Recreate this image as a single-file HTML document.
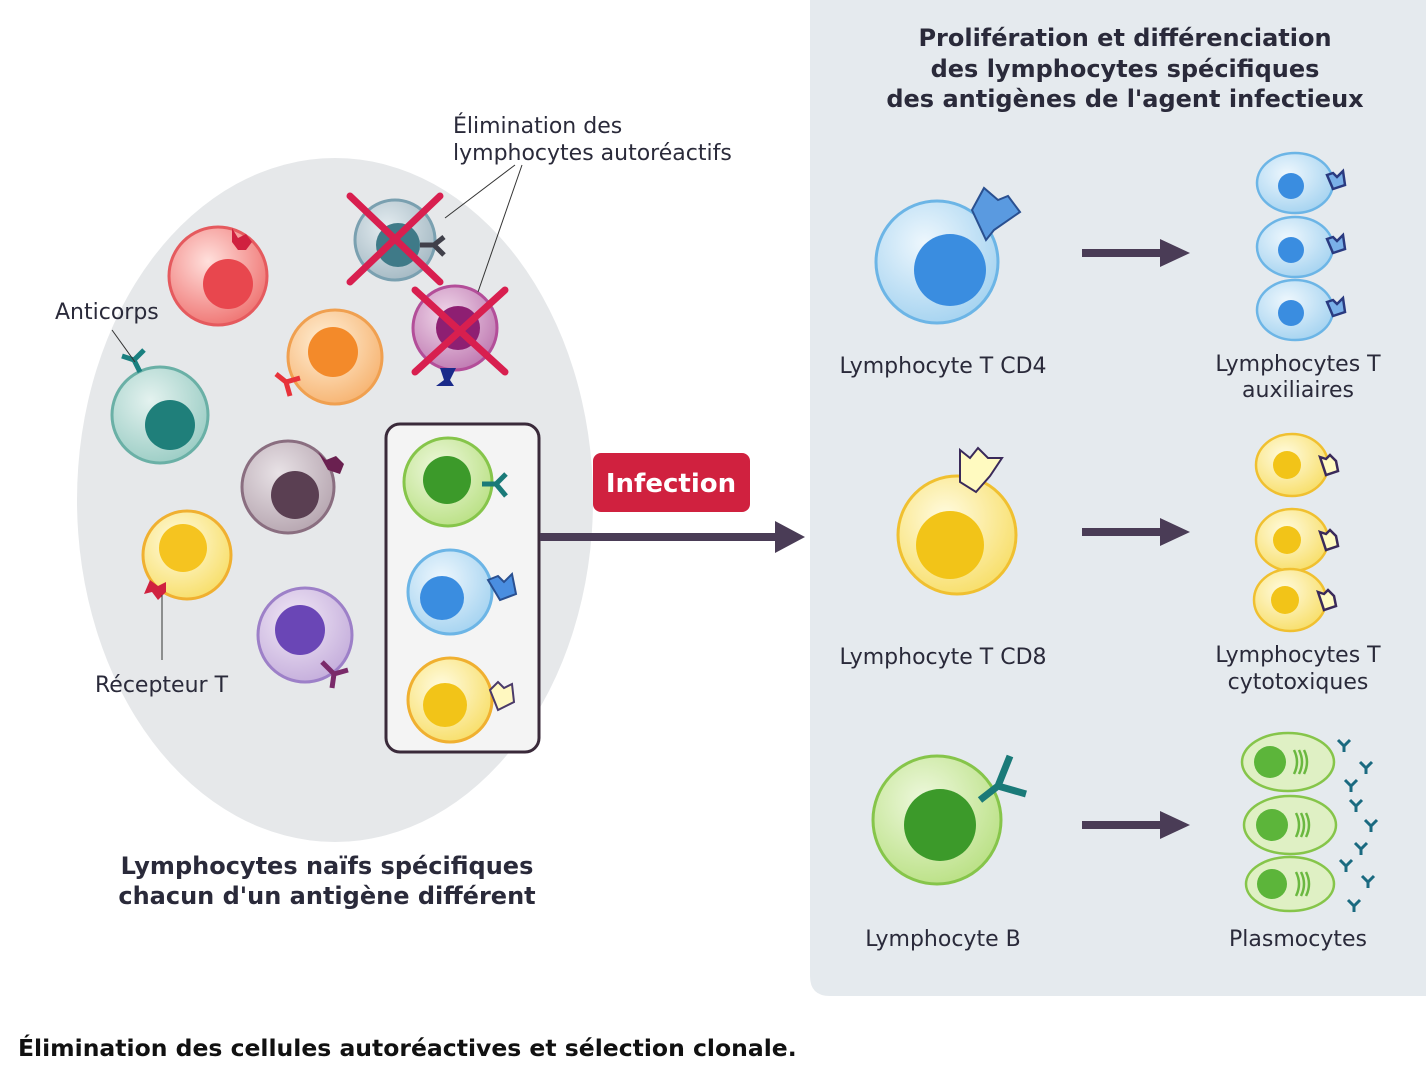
<!DOCTYPE html>
<html><head><meta charset="utf-8"><style>
html,body{margin:0;padding:0;background:#fff;}
svg{display:block;}
text{font-family:"DejaVu Sans","Liberation Sans",sans-serif;}
</style></head><body>
<svg width="1426" height="1080" viewBox="0 0 1426 1080" xmlns="http://www.w3.org/2000/svg">
<defs>
<radialGradient id="gr" cx="40%" cy="35%" r="65%"><stop offset="0" stop-color="#ffe0dc"/><stop offset="1" stop-color="#f07a78"/></radialGradient>
<radialGradient id="go" cx="40%" cy="35%" r="65%"><stop offset="0" stop-color="#fff0d8"/><stop offset="1" stop-color="#f7b777"/></radialGradient>
<radialGradient id="gt" cx="40%" cy="35%" r="65%"><stop offset="0" stop-color="#e4f2ef"/><stop offset="1" stop-color="#9fcfc7"/></radialGradient>
<radialGradient id="gb" cx="40%" cy="35%" r="65%"><stop offset="0" stop-color="#e8e2e6"/><stop offset="1" stop-color="#b9a9b3"/></radialGradient>
<radialGradient id="gy" cx="40%" cy="35%" r="65%"><stop offset="0" stop-color="#fffbe0"/><stop offset="1" stop-color="#f8e070"/></radialGradient>
<radialGradient id="gp" cx="40%" cy="35%" r="65%"><stop offset="0" stop-color="#f1e8f6"/><stop offset="1" stop-color="#c7b1dd"/></radialGradient>
<radialGradient id="gg" cx="40%" cy="35%" r="65%"><stop offset="0" stop-color="#eef8dd"/><stop offset="1" stop-color="#bde28a"/></radialGradient>
<radialGradient id="gbl" cx="40%" cy="35%" r="65%"><stop offset="0" stop-color="#eef7fd"/><stop offset="1" stop-color="#a9d5f1"/></radialGradient>
<radialGradient id="gm" cx="40%" cy="35%" r="65%"><stop offset="0" stop-color="#f0d8ea"/><stop offset="1" stop-color="#c27fb5"/></radialGradient>
<radialGradient id="gs" cx="40%" cy="35%" r="65%"><stop offset="0" stop-color="#e4ecf0"/><stop offset="1" stop-color="#a8bcc6"/></radialGradient>
</defs>
<path d="M810 0 H1426 V996 H830 Q810 996 810 976 Z" fill="#e5eaee"/>
<ellipse cx="335" cy="500" rx="258" ry="342" fill="#e6e8ea"/>

<g stroke-width="3">
<circle cx="218" cy="276" r="49" fill="url(#gr)" stroke="#e55a5e"/>
<circle cx="228" cy="284" r="25" fill="#e8474e"/>
<path d="M232 228 l6 10 l8 -4 l6 8 l-6 8 h-8 l-6 -8z" fill="#d0213f" stroke="none"/>
<circle cx="395" cy="240" r="40" fill="url(#gs)" stroke="#7aa0b0"/>
<circle cx="398" cy="245" r="22" fill="#3f7a88"/>
<path d="M420 245 l14 0 l10 -8 M434 245 l10 10" stroke="#40404a" stroke-width="5" fill="none"/>
<circle cx="455" cy="328" r="42" fill="url(#gm)" stroke="#b34e99"/>
<circle cx="458" cy="328" r="22" fill="#8e1f72"/>
<path d="M440 368 l4 12 l-8 6 h18 l-4 -6 l6 -12z" fill="#1a2a8a" stroke="none"/>
<circle cx="335" cy="357" r="47" fill="url(#go)" stroke="#f0a050"/>
<circle cx="333" cy="352" r="25" fill="#f38a2a"/>
<path d="M300 378 l-14 4 l-10 -8 M286 382 l4 14" stroke="#e8323a" stroke-width="5" fill="none"/>
<circle cx="160" cy="415" r="48" fill="url(#gt)" stroke="#6ab0a6"/>
<circle cx="170" cy="425" r="25" fill="#1f7f7a"/>
<path d="M140 372 l-6 -12 l-12 -4 M134 360 l10 -10" stroke="#1a8080" stroke-width="5" fill="none"/>
<line x1="112" y1="330" x2="135" y2="362" stroke="#333" stroke-width="1"/>
<circle cx="288" cy="487" r="46" fill="url(#gb)" stroke="#8a6e80"/>
<circle cx="295" cy="495" r="24" fill="#5a3f52"/>
<path d="M318 452 l8 8 l10 -4 l8 8 l-4 10 l-12 -4 z" fill="#6a2050" stroke="none"/>
<circle cx="187" cy="555" r="44" fill="url(#gy)" stroke="#f0b030"/>
<circle cx="183" cy="548" r="24" fill="#f5c420"/>
<path d="M150 580 l8 6 l8 -4 l0 10 l-8 8 l-6 -8 l-8 2z" fill="#d0213f" stroke="none"/>
<line x1="162" y1="595" x2="162" y2="660" stroke="#333" stroke-width="1"/>
<circle cx="305" cy="635" r="47" fill="url(#gp)" stroke="#9d80c8"/>
<circle cx="300" cy="630" r="25" fill="#6a46b6"/>
<path d="M322 662 l12 12 l14 -4 M334 674 l-2 14" stroke="#7a2a6a" stroke-width="5" fill="none"/>
</g>
<g stroke="#d81f4f" stroke-width="7" stroke-linecap="round">
<line x1="350" y1="196" x2="440" y2="282"/><line x1="440" y1="196" x2="350" y2="282"/>
<line x1="415" y1="290" x2="505" y2="372"/><line x1="505" y1="290" x2="415" y2="372"/>
</g>
<line x1="445" y1="218" x2="515" y2="165" stroke="#333" stroke-width="1"/>
<line x1="478" y1="292" x2="522" y2="165" stroke="#333" stroke-width="1"/>

<rect x="386" y="424" width="153" height="328" rx="14" fill="#f4f4f4" stroke="#3a2a3a" stroke-width="3"/>
<g stroke-width="3">
<circle cx="448" cy="482" r="44" fill="url(#gg)" stroke="#86c54a"/>
<circle cx="447" cy="480" r="24" fill="#3c9a2a"/>
<path d="M482 484 l14 0 l10 -10 M496 484 l10 12" stroke="#1a7a78" stroke-width="5" fill="none"/>
<circle cx="450" cy="592" r="42" fill="url(#gbl)" stroke="#6cb5e6"/>
<circle cx="442" cy="598" r="22" fill="#3a8de0"/>
<path d="M488 580 l10 -4 l6 6 l8 -8 l4 20 l-16 6 z" fill="#4a8ee0" stroke="#2a5090" stroke-width="2"/>
<circle cx="450" cy="700" r="42" fill="url(#gy)" stroke="#f0b030"/>
<circle cx="445" cy="705" r="22" fill="#f2c418"/>
<path d="M490 690 l8 -8 l6 6 l8 -4 l2 18 l-16 8z" fill="#fff8c0" stroke="#4a3a6a" stroke-width="2"/>
</g>

<line x1="540" y1="537" x2="780" y2="537" stroke="#4a3c56" stroke-width="8"/>
<path d="M775 521 L805 537 L775 553 Z" fill="#4a3c56"/>
<rect x="593" y="453" width="157" height="59" rx="8" fill="#d0213f"/>
<text x="671" y="492" text-anchor="middle" font-size="26" font-weight="bold" fill="#fff">Infection</text>

<g stroke-width="3">
<circle cx="937" cy="262" r="61" fill="url(#gbl)" stroke="#6cb5e6"/>
<circle cx="950" cy="270" r="36" fill="#3a8de0"/>
<path d="M972 210 l12 -22 l14 12 l10 -4 l12 16 l-26 18 l-8 10z" fill="#5a9ae0" stroke="#2a5090" stroke-width="2"/>
<circle cx="957" cy="535" r="59" fill="url(#gy)" stroke="#f0c030"/>
<circle cx="950" cy="545" r="34" fill="#f2c418"/>
<path d="M960 450 l10 8 l8 -10 l10 10 l14 0 l-12 18 l-14 16 l-16 -10z" fill="#fffac0" stroke="#3a2a5a" stroke-width="2"/>
<circle cx="937" cy="820" r="64" fill="url(#gg)" stroke="#86c54a"/>
<circle cx="940" cy="825" r="36" fill="#3c9a2a"/>
<path d="M980 800 l18 -14 l12 -30 M998 786 l28 8" stroke="#1a7a78" stroke-width="7" fill="none"/>
</g>
<g fill="#4a3c56">
<rect x="1082" y="249" width="80" height="8"/><path d="M1160 239 L1190 253 L1160 267Z"/>
<rect x="1082" y="528" width="80" height="8"/><path d="M1160 518 L1190 532 L1160 546Z"/>
<rect x="1082" y="821" width="80" height="8"/><path d="M1160 811 L1190 825 L1160 839Z"/>
</g>
<g stroke-width="2.5">
<g transform="translate(1295,183)"><ellipse rx="38" ry="30" fill="url(#gbl)" stroke="#6cb5e6"/><circle cx="-4" cy="3" r="13" fill="#3a8de0"/><path d="M32 -8 l6 -2 l4 4 l6 -6 l2 14 l-12 4z" fill="#7ab0e8" stroke="#2a3a80"/></g>
<g transform="translate(1295,247)"><ellipse rx="38" ry="30" fill="url(#gbl)" stroke="#6cb5e6"/><circle cx="-4" cy="3" r="13" fill="#3a8de0"/><path d="M32 -8 l6 -2 l4 4 l6 -6 l2 14 l-12 4z" fill="#7ab0e8" stroke="#2a3a80"/></g>
<g transform="translate(1295,310)"><ellipse rx="38" ry="30" fill="url(#gbl)" stroke="#6cb5e6"/><circle cx="-4" cy="3" r="13" fill="#3a8de0"/><path d="M32 -8 l6 -2 l4 4 l6 -6 l2 14 l-12 4z" fill="#7ab0e8" stroke="#2a3a80"/></g>
<g transform="translate(1292,465)"><ellipse rx="36" ry="31" fill="url(#gy)" stroke="#f0c030"/><circle cx="-5" cy="0" r="14" fill="#f2c418"/><path d="M28 -8 l6 2 l4 -4 l6 6 l2 10 l-12 4z" fill="#fffac0" stroke="#3a2a5a"/></g>
<g transform="translate(1292,540)"><ellipse rx="36" ry="31" fill="url(#gy)" stroke="#f0c030"/><circle cx="-5" cy="0" r="14" fill="#f2c418"/><path d="M28 -8 l6 2 l4 -4 l6 6 l2 10 l-12 4z" fill="#fffac0" stroke="#3a2a5a"/></g>
<g transform="translate(1290,600)"><ellipse rx="36" ry="31" fill="url(#gy)" stroke="#f0c030"/><circle cx="-5" cy="0" r="14" fill="#f2c418"/><path d="M28 -8 l6 2 l4 -4 l6 6 l2 10 l-12 4z" fill="#fffac0" stroke="#3a2a5a"/></g>
</g>
<g stroke-width="2.5">
<g transform="translate(1288,762)"><ellipse rx="46" ry="29" fill="#dff0c4" stroke="#86c54a"/><circle cx="-18" cy="0" r="16" fill="#5cb53a"/><path d="M6 -12 q6 12 0 24 M11 -12 q6 12 0 24 M16 -12 q6 12 0 24" stroke="#6ab840" fill="none"/></g>
<g transform="translate(1290,825)"><ellipse rx="46" ry="29" fill="#dff0c4" stroke="#86c54a"/><circle cx="-18" cy="0" r="16" fill="#5cb53a"/><path d="M6 -12 q6 12 0 24 M11 -12 q6 12 0 24 M16 -12 q6 12 0 24" stroke="#6ab840" fill="none"/></g>
<g transform="translate(1290,884)"><ellipse rx="44" ry="27" fill="#dff0c4" stroke="#86c54a"/><circle cx="-18" cy="0" r="15" fill="#5cb53a"/><path d="M6 -12 q6 12 0 24 M11 -12 q6 12 0 24 M16 -12 q6 12 0 24" stroke="#6ab840" fill="none"/></g>
</g>
<g stroke="#1a6a80" stroke-width="3" fill="none">
<path d="M1338 740 l6 6 l6 -6 M1344 746 v6"/><path d="M1360 762 l6 6 l6 -6 M1366 768 v6"/>
<path d="M1345 780 l6 6 l6 -6 M1351 786 v6"/><path d="M1350 800 l6 6 l6 -6 M1356 806 v6"/>
<path d="M1365 820 l6 6 l6 -6 M1371 826 v6"/><path d="M1355 843 l6 6 l6 -6 M1361 849 v6"/>
<path d="M1340 860 l6 6 l6 -6 M1346 866 v6"/><path d="M1362 876 l6 6 l6 -6 M1368 882 v6"/>
<path d="M1348 900 l6 6 l6 -6 M1354 906 v6"/>
</g>

<g fill="#2a2a3a" font-size="22">
<text x="1125" y="46" text-anchor="middle" font-size="24" font-weight="bold">Prolifération et différenciation</text>
<text x="1125" y="77" text-anchor="middle" font-size="24" font-weight="bold">des lymphocytes spécifiques</text>
<text x="1125" y="107" text-anchor="middle" font-size="24" font-weight="bold">des antigènes de l'agent infectieux</text>
<text x="453" y="133">Élimination des</text>
<text x="453" y="160">lymphocytes autoréactifs</text>
<text x="55" y="319">Anticorps</text>
<text x="95" y="692">Récepteur T</text>
<text x="943" y="373" text-anchor="middle">Lymphocyte T CD4</text>
<text x="1298" y="371" text-anchor="middle">Lymphocytes T</text>
<text x="1298" y="397" text-anchor="middle">auxiliaires</text>
<text x="943" y="664" text-anchor="middle">Lymphocyte T CD8</text>
<text x="1298" y="662" text-anchor="middle">Lymphocytes T</text>
<text x="1298" y="689" text-anchor="middle">cytotoxiques</text>
<text x="943" y="946" text-anchor="middle">Lymphocyte B</text>
<text x="1298" y="946" text-anchor="middle">Plasmocytes</text>
<text x="327" y="874" text-anchor="middle" font-size="24" font-weight="bold">Lymphocytes naïfs spécifiques</text>
<text x="327" y="904" text-anchor="middle" font-size="24" font-weight="bold">chacun d'un antigène différent</text>
</g>
<text x="18" y="1056" font-family="Liberation Sans, sans-serif" font-size="23.5" font-weight="bold" fill="#111">Élimination des cellules autoréactives et sélection clonale.</text>
</svg>
</body></html>
